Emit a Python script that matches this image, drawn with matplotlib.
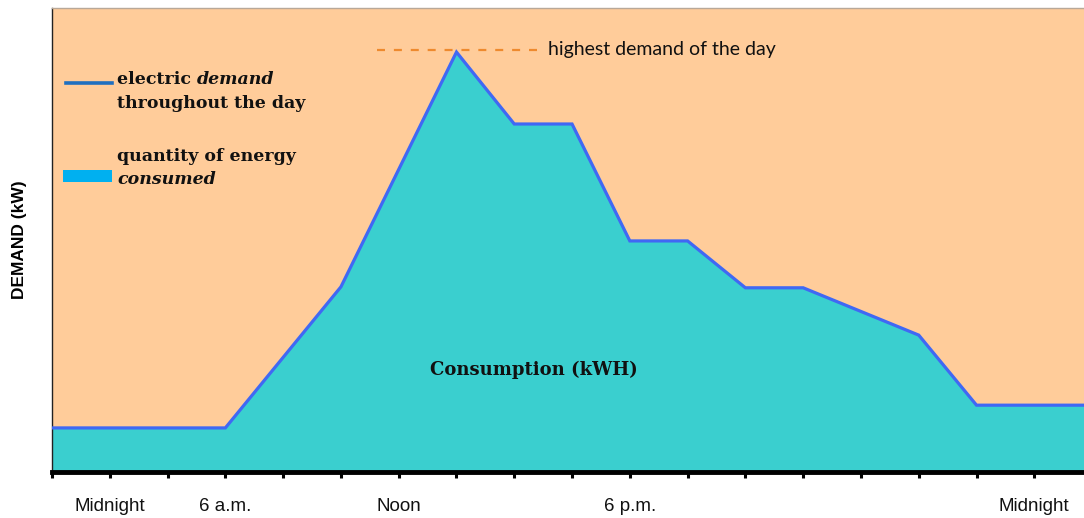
import matplotlib
matplotlib.use("Agg")
import matplotlib.pyplot as plt
from matplotlib.lines import Line2D
from matplotlib.patches import Rectangle

# Data (x in tick units, demand in arbitrary units 0-100)
hours = [0, 3, 5, 7, 8, 9, 10, 11, 12, 13, 15, 16, 17.86]
demand = [9.5, 9.5, 39.9, 90.5, 75.0, 75.0, 49.8, 49.8, 39.7, 39.7, 29.5, 14.4, 14.4]
tick_positions = list(range(0, 18))
label_map = {1: "Midnight", 3: "6 a.m.", 6: "Noon", 10: "6 p.m.", 17: "Midnight"}
tick_labels = [label_map.get(k, "") for k in tick_positions]

peach = "#FFCC9A"
teal = "#3ACFCF"
line_blue = "#4068F4"

fig = plt.figure(figsize=(10.84, 5.18), dpi=100)
ax = fig.add_axes([52/1084, 46/518, 1 - 52/1084, (472-8)/518])
ax.set_facecolor(peach)
ax.set_xlim(0, 17.86)
ax.set_ylim(0, 100)

ax.fill_between(hours, demand, 0, color=teal, zorder=2, linewidth=0)
ax.plot(hours, demand, color=line_blue, linewidth=2.3, zorder=3, solid_joinstyle="miter")

# peak dashed line
peak = max(demand)
ax.plot([5.63, 8.45], [peak + 0.5] * 2, color="#EE8A2E", linestyle=(0, (3.6, 4.0)),
        linewidth=1.6, zorder=4)
ax.text(8.58, peak + 0.5, "highest demand of the day", fontsize=14, family="Lato",
        color="#111111", va="center", ha="left")

ax.spines["right"].set_visible(False)
ax.spines["top"].set_color("#B8A898")
ax.spines["top"].set_linewidth(1.0)
ax.spines["left"].set_color("#222222")
ax.spines["left"].set_linewidth(1.0)
ax.spines["bottom"].set_color("black")
ax.spines["bottom"].set_linewidth(3.5)

ax.set_yticks([])
ax.set_xticks(tick_positions)
ax.set_xticklabels(tick_labels, fontsize=13.5, family="Liberation Sans", color="#111111")
ax.tick_params(axis="x", length=4, width=2.2, color="black", pad=14.5)

ax.set_ylabel("DEMAND (kW)", fontsize=12.5, family="Liberation Sans", fontweight="bold",
              labelpad=18)

# Legend-like annotations
serif = "DejaVu Serif"
fs = 12.5
t1 = fig.text(117/1084, 1 - 84/518, "electric ", fontsize=fs, family=serif, fontweight="bold",
              color="#111111", va="baseline")
ax.annotate("demand", xy=(1, 0), xycoords=t1, fontsize=fs, family=serif, fontweight="bold",
            style="italic", color="#111111", va="bottom", ha="left")
fig.text(117/1084, 1 - 108/518, "throughout the day", fontsize=fs, family=serif, fontweight="bold",
         color="#111111", va="baseline")
fig.text(117/1084, 1 - 161/518, "quantity of energy", fontsize=fs, family=serif, fontweight="bold",
         color="#111111", va="baseline")
fig.text(117/1084, 1 - 184/518, "consumed", fontsize=fs, family=serif, fontweight="bold",
         style="italic", color="#111111", va="baseline")

fig.add_artist(Line2D([66/1084, 112/1084], [1 - 83/518] * 2, color="#1F6FC0", linewidth=2.6,
                      transform=fig.transFigure))
fig.add_artist(Rectangle((63/1084, 1 - 182/518), 49/1084, 12/518, color="#00B0F0",
                         transform=fig.transFigure, linewidth=0))

fig.text(534/1084, 1 - 370/518, "Consumption (kWH)", fontsize=13, family=serif,
         fontweight="bold", color="#111111", ha="center", va="center")

fig.savefig("out.png", dpi=100, facecolor="white")
